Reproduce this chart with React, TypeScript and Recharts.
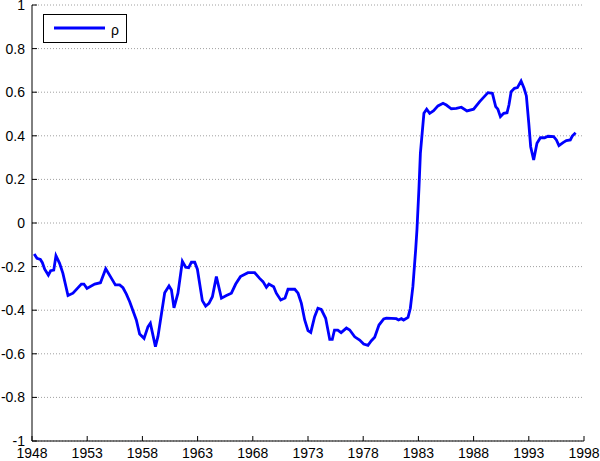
import React from "react";
import { LineChart, Line, XAxis, YAxis, CartesianGrid, Legend } from "recharts";

const years: number[] = [
  1948.2, 1948.45, 1948.76, 1948.94, 1949.15, 1949.48, 1949.69, 1949.97, 1950.17, 1950.5,
  1950.8, 1951.26, 1951.71, 1952.47, 1952.7, 1952.98, 1953.68, 1954.2, 1954.68, 1955.2,
  1955.55, 1955.94, 1956.24, 1956.55, 1956.85, 1957.45, 1957.75, 1958.15, 1958.5, 1958.72,
  1959.18, 1959.41, 1960.02, 1960.41, 1960.63, 1960.86, 1961.22, 1961.62, 1961.92, 1962.19,
  1962.44, 1962.74, 1962.98, 1963.43, 1963.73, 1964.03, 1964.34, 1964.7, 1965.16, 1965.61,
  1966.06, 1966.45, 1966.88, 1967.56, 1968.17, 1968.62, 1968.92, 1969.23, 1969.46, 1969.89,
  1970.13, 1970.53, 1970.92, 1971.19, 1971.8, 1972.1, 1972.4, 1972.7, 1973.0, 1973.25,
  1973.6, 1973.9, 1974.2, 1974.6, 1974.97, 1975.2, 1975.4, 1975.7, 1976.0, 1976.48,
  1976.78, 1977.23, 1977.68, 1978.04, 1978.43, 1978.74, 1979.04, 1979.43, 1979.86, 1980.1,
  1981.0, 1981.2, 1981.46, 1981.66, 1982.06, 1982.27, 1982.5, 1982.75, 1982.87, 1983.05,
  1983.18, 1983.5, 1983.75, 1984.02, 1984.38, 1984.77, 1985.23, 1985.53, 1985.98, 1986.44,
  1986.89, 1987.4, 1988.0, 1988.55, 1989.3, 1989.7, 1990.0, 1990.2, 1990.43, 1990.73,
  1991.03, 1991.2, 1991.4, 1991.7, 1991.97, 1992.3, 1992.57, 1992.78, 1993.0, 1993.17,
  1993.44, 1993.74, 1994.05, 1994.43, 1994.74, 1995.25, 1995.5, 1995.73, 1996.1, 1996.4,
  1996.76, 1996.94, 1997.24,
];

const rho: number[] = [
  -0.142, -0.162, -0.167, -0.182, -0.212, -0.239, -0.219, -0.216, -0.15, -0.185,
  -0.231, -0.333, -0.322, -0.28, -0.28, -0.3, -0.28, -0.274, -0.21, -0.254,
  -0.284, -0.284, -0.297, -0.326, -0.361, -0.445, -0.509, -0.529, -0.476, -0.46,
  -0.567, -0.52, -0.32, -0.289, -0.307, -0.389, -0.322, -0.176, -0.203, -0.205,
  -0.18, -0.18, -0.212, -0.356, -0.381, -0.369, -0.338, -0.246, -0.345, -0.333,
  -0.322, -0.28, -0.246, -0.228, -0.228, -0.254, -0.269, -0.295, -0.28, -0.292,
  -0.322, -0.353, -0.344, -0.304, -0.304, -0.322, -0.369, -0.445, -0.494, -0.502,
  -0.43, -0.391, -0.396, -0.437, -0.534, -0.534, -0.491, -0.491, -0.503, -0.482,
  -0.491, -0.522, -0.537, -0.555, -0.561, -0.54, -0.524, -0.468, -0.44, -0.436,
  -0.439, -0.445, -0.439, -0.445, -0.433, -0.391, -0.292, -0.124, -0.03, 0.159,
  0.32, 0.503, 0.522, 0.503, 0.515, 0.537, 0.549, 0.541, 0.524, 0.526,
  0.531, 0.514, 0.522, 0.557, 0.598, 0.595, 0.534, 0.522, 0.488, 0.503,
  0.506, 0.541, 0.602, 0.618, 0.621, 0.651, 0.618, 0.583, 0.457, 0.35,
  0.289, 0.366, 0.391, 0.391, 0.398, 0.396, 0.381, 0.355, 0.369, 0.378,
  0.381, 0.399, 0.414,
];

const xTicks: number[] = [1948, 1953, 1958, 1963, 1968, 1973, 1978, 1983, 1988, 1993, 1998];
const yTicks: number[] = [-1, -0.8, -0.6, -0.4, -0.2, 0, 0.2, 0.4, 0.6, 0.8, 1];
const seriesName = "ρ";

const data = years.map((y, i) => ({ year: y, rho: rho[i] }));

const FONT = "'Liberation Sans', Arial, Helvetica, sans-serif";

const fmtY = (v: number) => String(Math.round(v * 10) / 10);

const renderLegend = () => (
  <div
    style={{
      width: 84,
      height: 29,
      boxSizing: "border-box",
      border: "1px solid #000",
      background: "#fff",
    }}
  >
    <svg width={82} height={27} style={{ display: "block" }}>
      <line x1={10} x2={61} y1={13} y2={13} stroke="#0000ff" strokeWidth={2.8} />
      <text x={67} y={20} fontSize={14} fontFamily={FONT} fill="#000">
        {seriesName}
      </text>
    </svg>
  </div>
);

export default function App() {
  return (
    <div style={{ position: "absolute", left: 0, top: 0, width: 600, height: 461, background: "#fff" }}>
      <LineChart
        width={600}
        height={461}
        data={data}
        margin={{ top: 5, right: 16, bottom: 0, left: 0 }}
        style={{ fontFamily: FONT }}
      >
        <CartesianGrid vertical={false} stroke="#a0a0a0" strokeDasharray="1 2" />
        <XAxis
          dataKey="year"
          type="number"
          domain={[1948, 1998]}
          ticks={xTicks}
          interval={0}
          height={20}
          stroke="#000"
          tickSize={-5}
          tickMargin={12}
          tick={{ fill: "#000", fontSize: 14 }}
          allowDataOverflow
        />
        <XAxis
          xAxisId="top"
          orientation="top"
          dataKey="year"
          type="number"
          domain={[1948, 1998]}
          ticks={xTicks}
          interval={0}
          height={0}
          stroke="#000"
          tickSize={-5}
          tick={false}
          allowDataOverflow
        />
        <YAxis
          type="number"
          domain={[-1, 1]}
          ticks={yTicks}
          interval={0}
          width={32}
          stroke="#000"
          tickSize={-5}
          tickMargin={12}
          tickFormatter={fmtY}
          tick={{ fill: "#000", fontSize: 14 }}
          allowDataOverflow
        />
        <YAxis
          yAxisId="right"
          orientation="right"
          type="number"
          domain={[-1, 1]}
          ticks={yTicks}
          interval={0}
          width={0}
          stroke="#000"
          tickSize={-5}
          tick={false}
          allowDataOverflow
        />
        <Legend
          layout="horizontal"
          verticalAlign="middle"
          align="center"
          content={renderLegend}
          wrapperStyle={{ left: 43, top: 14, width: 84, height: 29 }}
        />
        <Line
          dataKey="rho"
          name={seriesName}
          type="linear"
          stroke="#0000ff"
          strokeWidth={2.8}
          dot={false}
          isAnimationActive={false}
        />
      </LineChart>
    </div>
  );
}
